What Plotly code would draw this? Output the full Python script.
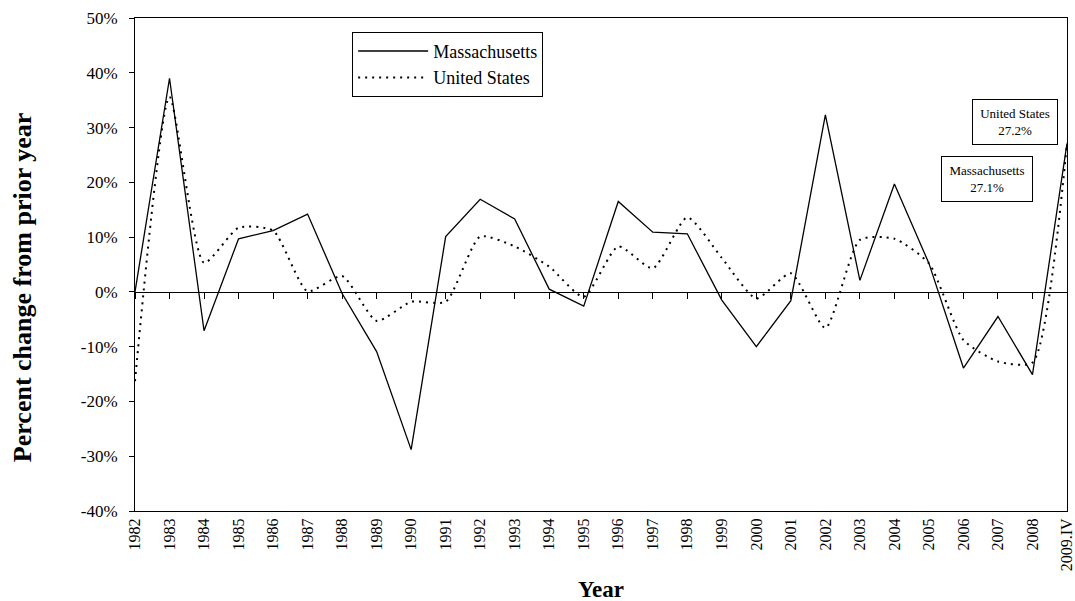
import plotly.graph_objects as go

# Annual percent change, 1982 through 2009 Q4
years = ["1982", "1983", "1984", "1985", "1986", "1987", "1988", "1989", "1990",
         "1991", "1992", "1993", "1994", "1995", "1996", "1997", "1998", "1999",
         "2000", "2001", "2002", "2003", "2004", "2005", "2006", "2007", "2008",
         "2009.IV"]

massachusetts = [0.0, 39.0, -7.1, 9.7, 11.2, 14.2, -0.3, -10.9, -28.8,
                 10.1, 16.9, 13.3, 0.5, -2.6, 16.5, 10.9, 10.6, -1.5,
                 -10.0, -1.6, 32.3, 2.1, 19.7, 5.2, -13.9, -4.5, -15.1,
                 27.1]

united_states = [-16.3, 35.6, 5.3, 11.7, 11.2, 0.1, 2.9, -5.3, -1.8,
                 -1.8, 10.1, 8.3, 4.6, -0.9, 8.3, 4.3, 13.6, 6.2,
                 -1.2, 3.4, -6.6, 9.5, 9.7, 5.2, -8.8, -12.7, -12.9,
                 27.2]

y_ticks = [-40, -30, -20, -10, 0, 10, 20, 30, 40, 50]

SERIF = "Liberation Serif"
xpos = list(range(len(years)))
x_range = [0, len(years) - 1]
y_range = [-40, 50]

fig = go.Figure()

fig.add_trace(go.Scatter(
    x=xpos, y=massachusetts, name="Massachusetts", mode="lines",
    line=dict(color="black", width=1.3),
))
fig.add_trace(go.Scatter(
    x=xpos, y=united_states, name="United States", mode="lines",
    line=dict(color="black", width=2, dash="2px,5px", shape="spline", smoothing=0.6),
))
# carrier for the zero-line axis (ticks sit on the 0% line)
fig.add_trace(go.Scatter(
    x=xpos, y=[0] * len(xpos), xaxis="x2", mode="lines",
    line=dict(width=0), showlegend=False, hoverinfo="skip",
))

zero_frac = (0 - y_range[0]) / (y_range[1] - y_range[0])

fig.update_layout(
    width=1075, height=601,
    margin=dict(l=135, r=8, t=18, b=90),
    paper_bgcolor="white", plot_bgcolor="white",
    font=dict(family=SERIF, color="black", size=17),
    showlegend=True,
    legend=dict(
        x=0.233, y=0.972, xanchor="left", yanchor="top",
        bordercolor="black", borderwidth=1, bgcolor="white",
        font=dict(family=SERIF, size=18),
        itemwidth=70, tracegroupgap=0,
    ),
    xaxis=dict(
        range=x_range, tickmode="array", tickvals=xpos, ticktext=years,
        tickangle=-90, ticks="", showgrid=False, zeroline=False,
        ticklabeloverflow="allow", automargin=False,
        showline=True, linecolor="black", linewidth=1, mirror=True,
        tickfont=dict(family=SERIF, size=16),
    ),
    xaxis2=dict(
        range=x_range, overlaying="x", anchor="free", position=zero_frac,
        side="bottom", tickmode="array", tickvals=xpos, ticks="outside",
        ticklen=6, tickcolor="black", tickwidth=1, showticklabels=False,
        showgrid=False, zeroline=False, showline=True, linecolor="black", linewidth=1,
        automargin=False,
    ),
    yaxis=dict(
        range=y_range, tickmode="array", tickvals=y_ticks,
        ticktext=[f"{v}%" for v in y_ticks],
        ticks="outside", ticklen=5, tickcolor="black", ticklabelstandoff=8,
        showgrid=False, zeroline=False, automargin=False,
        showline=True, linecolor="black", linewidth=1, mirror=True,
        tickfont=dict(family=SERIF, size=17),
    ),
)

# Axis titles
fig.add_annotation(
    x=-0.1213, y=0.454, xref="paper", yref="paper",
    text="<b>Percent change from prior year</b>", textangle=-90,
    showarrow=False, font=dict(family=SERIF, size=26),
    xanchor="center", yanchor="middle",
)
fig.add_annotation(
    x=0.50, y=-0.160, xref="paper", yref="paper",
    text="<b>Year</b>", showarrow=False, font=dict(family=SERIF, size=23),
    xanchor="center", yanchor="middle",
)

# End-point value callouts
fig.add_annotation(
    x=25.5, y=31.1, xref="x", yref="y",
    text=f"United States<br>{united_states[-1]}%", showarrow=False,
    font=dict(family=SERIF, size=13), align="center",
    bordercolor="black", borderwidth=1, borderpad=3, bgcolor="white",
    width=78, height=38,
)
fig.add_annotation(
    x=24.68, y=20.7, xref="x", yref="y",
    text=f"Massachusetts<br>{massachusetts[-1]}%", showarrow=False,
    font=dict(family=SERIF, size=13), align="center",
    bordercolor="black", borderwidth=1, borderpad=3, bgcolor="white",
    width=84, height=38,
)

fig.write_html("out.html")
